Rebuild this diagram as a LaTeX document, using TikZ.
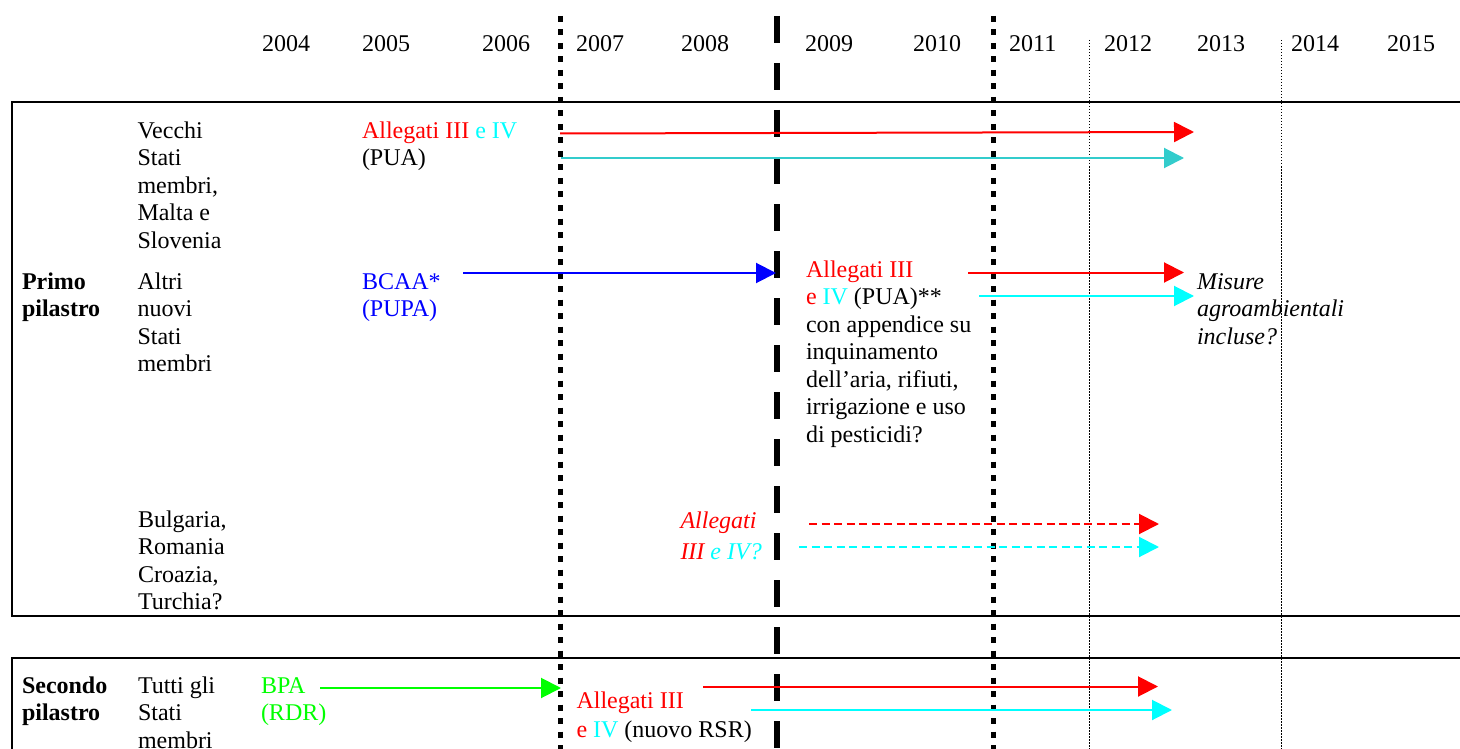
\documentclass[tikz,border=0pt]{standalone}
\usepackage{fontspec}
\setmainfont{Liberation Serif}
\usetikzlibrary{arrows.meta}
\definecolor{cred}{RGB}{255,0,0}
\definecolor{ccyan}{RGB}{0,255,255}
\definecolor{cteal}{RGB}{51,204,204}
\definecolor{cblue}{RGB}{0,0,255}
\definecolor{cgreen}{RGB}{0,255,0}
\newcommand{\fsz}{\fontsize{24}{27.5}\selectfont}
% note: multi-line nodes are placed by the baseline of their LAST line
\tikzset{
  txt/.style={anchor=base west, inner sep=0pt, outer sep=0pt, align=left, font=\fsz},
  yr/.style={anchor=base west, inner sep=0pt, font=\fsz},
  arr/.style={-{Triangle[length=20pt,width=20pt]}, line width=2pt},
  darr/.style={arr, dash pattern=on 8pt off 4.5pt},
  boxline/.style={line width=2pt, black},
  dotv/.style={line width=5pt, dash pattern=on 6pt off 7.5pt},
  dashv/.style={line width=6.5pt, dash pattern=on 27pt off 20pt},
  thinv/.style={line width=1pt, dash pattern=on 1.5pt off 1.5pt}
}
\begin{document}
\begin{tikzpicture}[x=1pt,y=-1pt]
\clip (0,0) rectangle (1460,749);
\fill[white] (0,0) rectangle (1460,749);

% boxes
\draw[boxline] (1462,102) -- (12,102) -- (12,616) -- (1462,616);
\draw[boxline] (1462,658) -- (12,658) -- (12,752);

% vertical lines
\draw[dotv] (560.5,16) -- (560.5,760);
\draw[dashv] (777,16) -- (777,760);
\draw[dotv] (993,16) -- (993,760);
\draw[thinv] (1089,40) -- (1089,760);
\draw[thinv] (1281,40) -- (1281,760);

% years
\node[yr] (y04) at (262,52) {2004};
\node[yr] (y05) at (362,52) {2005};
\node[yr] (y06) at (482,52) {2006};
\node[yr] (y07) at (576,52) {2007};
\node[yr] (y08) at (681,52) {2008};
\node[yr] (y09) at (805,52) {2009};
\node[yr] (y10) at (913,52) {2010};
\node[yr] (y11) at (1009,52) {2011};
\node[yr] (y12) at (1104,52) {2012};
\node[yr] (y13) at (1197,52) {2013};
\node[yr] (y14) at (1291,52) {2014};
\node[yr] (y15) at (1387,52) {2015};

% first pillar texts
\node[txt, font=\fsz\bfseries] (primo) at (22,316.5) {Primo\\pilastro};
\node[txt] (vecchi) at (137.5,248) {Vecchi\\Stati\\membri,\\Malta e\\Slovenia};
\node[txt] (altri) at (137.5,371.5) {Altri\\nuovi\\Stati\\membri};
\node[txt] (all1) at (362,165.5) {\textcolor{cred}{Allegati III} \textcolor{ccyan}{e IV}\\(PUA)};
\node[txt, text=cblue] (bcaa) at (362,316.5) {BCAA*\\(PUPA)};
\node[txt] (all2) at (806,442) {\textcolor{cred}{Allegati III}\\\textcolor{cred}{e} \textcolor{ccyan}{IV} (PUA)**\\con appendice su\\inquinamento\\dell’aria, rifiuti,\\irrigazione e uso\\di pesticidi?};
\node[txt, font=\fsz\itshape] (misure) at (1197,344) {Misure\\agroambientali\\incluse?};
\node[txt] (bulg) at (138,609.5) {Bulgaria,\\Romania\\Croazia,\\Turchia?};
\node[txt, font=\fontsize{24}{31}\selectfont\itshape] (all3) at (680.5,559) {\textcolor{cred}{Allegati}\\\textcolor{cred}{III} \textcolor{ccyan}{e IV?}};

% second pillar texts
\node[txt, font=\fsz\bfseries] (secondo) at (22,720.5) {Secondo\\pilastro};
\node[txt] (tutti) at (138,748) {Tutti gli\\Stati\\membri};
\node[txt, text=cgreen] (bpa) at (261,720.5) {BPA\\(RDR)};
\node[txt, font=\fontsize{24}{29}\selectfont] (all4) at (576.5,737) {\textcolor{cred}{Allegati III}\\\textcolor{cred}{e} \textcolor{ccyan}{IV} (nuovo RSR)};

% arrow end points
\coordinate (a1s) at (560,133.5);  \coordinate (a1e) at (1194,132);
\coordinate (a2s) at (561,158);    \coordinate (a2e) at (1184,158);
\coordinate (a3s) at (463,273);    \coordinate (a3e) at (776,273);
\coordinate (a4s) at (968,272.5);  \coordinate (a4e) at (1184,272.5);
\coordinate (a5s) at (979,296);    \coordinate (a5e) at (1194,296);
\coordinate (a6s) at (809,524);    \coordinate (a6e) at (1159,524);
\coordinate (a7s) at (799,547);    \coordinate (a7e) at (1159,547);
\coordinate (a8s) at (320,688);    \coordinate (a8e) at (561,688);
\coordinate (a9s) at (703,686.5);  \coordinate (a9e) at (1158,686.5);
\coordinate (a10s) at (751,710);   \coordinate (a10e) at (1172,710);

\draw[arr, cred] (a1s) -- (a1e);
\draw[arr, cteal] (a2s) -- (a2e);
\draw[arr, cblue] (a3s) -- (a3e);
\draw[arr, cred] (a4s) -- (a4e);
\draw[arr, ccyan] (a5s) -- (a5e);
\draw[darr, cred] (a6s) -- (a6e);
\draw[darr, ccyan] (a7s) -- (a7e);
\draw[arr, cgreen] (a8s) -- (a8e);
\draw[arr, cred] (a9s) -- (a9e);
\draw[arr, ccyan] (a10s) -- (a10e);
\end{tikzpicture}
\end{document}
